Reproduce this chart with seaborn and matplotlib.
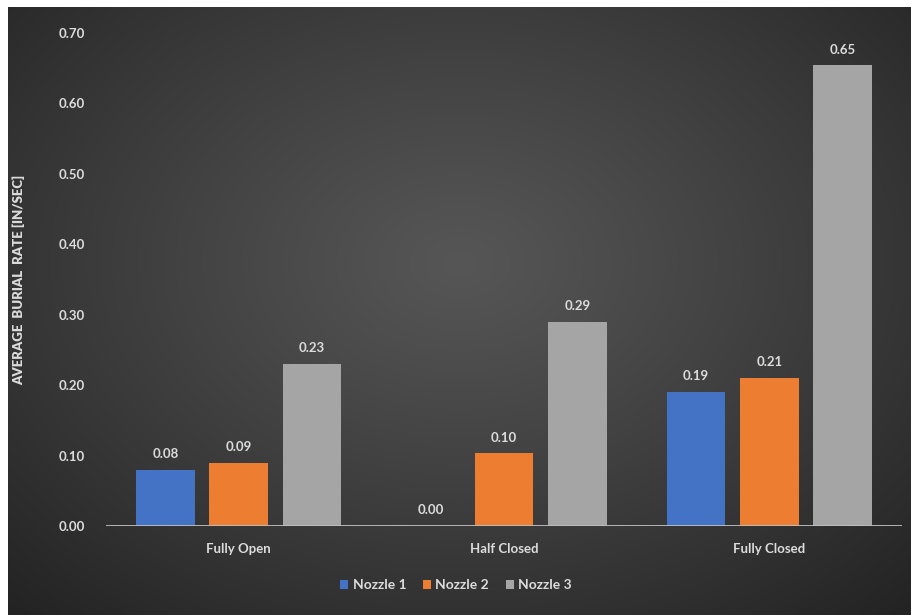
import numpy as np
import pandas as pd
import matplotlib
matplotlib.use("Agg")
import matplotlib.pyplot as plt
import seaborn as sns
from matplotlib.patches import Patch

categories = ["Fully Open", "Half Closed", "Fully Closed"]
series = ["Nozzle 1", "Nozzle 2", "Nozzle 3"]
nozzle1 = [0.08, 0.00, 0.19]
nozzle2 = [0.09, 0.103, 0.21]
nozzle3 = [0.23, 0.29, 0.654]
yticks = [0.0, 0.1, 0.2, 0.3, 0.4, 0.5, 0.6, 0.7]
colors = ["#4472C4", "#ED7D31", "#A5A5A5"]

df = pd.DataFrame({
    "cat": categories * 3,
    "series": [s for s in series for _ in categories],
    "val": nozzle1 + nozzle2 + nozzle3,
})

sns.set_theme(style="white")
plt.rcParams["font.family"] = ["Lato", "DejaVu Sans"]

W, H = 912, 615
fig = plt.figure(figsize=(W / 100, H / 100), dpi=100, facecolor="white")

# background gradient
bg = fig.add_axes([8 / W, 0, 1 - 8 / W, 1 - 7 / H])
nx, ny = 400, 300
xx, yy = np.meshgrid(np.linspace(0, 1, nx), np.linspace(0, 1, ny))
cx, cy = 0.5, 0.42
r = np.sqrt(((xx - cx) / 0.75) ** 2 + ((yy - cy) / 0.8) ** 2)
r = np.clip(r, 0, 1)
c_in, c_out = 86 / 255, 34 / 255
val = c_in + (c_out - c_in) * r ** 1.1
img = np.dstack([val, val, val])
bg.imshow(img, aspect="auto", extent=[0, 1, 0, 1], origin="upper")
bg.set_axis_off()

ax = fig.add_axes([106 / W, 89 / H, 796 / W, (526 - 33) / H])
ax.patch.set_alpha(0)
sns.barplot(data=df, x="cat", y="val", hue="series", palette=colors,
            width=0.83, gap=0.2, saturation=1, linewidth=0, ax=ax, legend=False)

for cont in ax.containers:
    ax.bar_label(cont, fmt="%.2f", padding=7, color="#dcdcdc",
                 fontsize=9.5, fontweight="bold")

ax.set_ylim(0, 0.70)
ax.set_yticks(yticks)
ax.set_yticklabels([f"{t:.2f}" for t in yticks], color="#dcdcdc",
                   fontsize=9.5, fontweight="bold")
ax.set_xticklabels(categories, color="#dcdcdc", fontsize=9.5, fontweight="bold")
ax.tick_params(axis="y", length=0, pad=15)
ax.tick_params(axis="x", length=0, pad=12)
for s in ax.spines.values():
    s.set_visible(False)
ax.axhline(0, color="#bfbfbf", lw=1.3, zorder=5)
ax.set_xlabel("")
ax.set_ylabel("AVERAGE  BURIAL  RATE [IN/SEC]", color="#dcdcdc",
              fontsize=9.5, fontweight="heavy", labelpad=24)

handles = [Patch(facecolor=c, edgecolor="none") for c in colors]
leg = fig.legend(handles, series, loc="center", bbox_to_anchor=(0.5, 1 - 585 / H),
                 ncol=3, frameon=False, handlelength=0.6, handleheight=0.6,
                 handletextpad=0.3, columnspacing=1.2, fontsize=10)
for t in leg.get_texts():
    t.set_color("#dcdcdc")
    t.set_fontweight("bold")

fig.savefig("out.png", dpi=100, facecolor="white")
